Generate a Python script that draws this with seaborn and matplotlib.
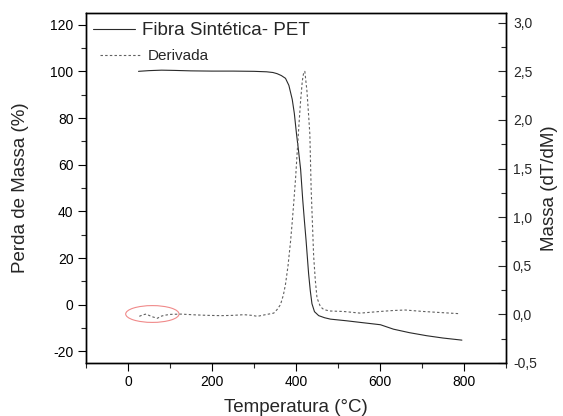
import numpy as np
import pandas as pd
import matplotlib
matplotlib.use("Agg")
import matplotlib.pyplot as plt
from matplotlib.patches import Ellipse
from matplotlib.ticker import MultipleLocator, FuncFormatter
from matplotlib.lines import Line2D
import seaborn as sns

# ---- data ----
tga_temp = [25, 50, 80, 110, 150, 200, 250, 300, 330, 345, 355, 365, 375, 383,
            391, 396, 401, 406, 411, 416, 420, 424, 430, 434, 438, 444, 454,
            468, 482, 520, 553, 601, 632, 670, 711, 750, 795]
tga_mass = [100, 100.3, 100.5, 100.4, 100.2, 100.1, 100.1, 100, 99.8, 99.5, 99,
            98.2, 97, 94, 88, 82, 73.5, 66, 58, 45, 36, 27.5, 13.3, 6, 0.4, -3,
            -4.7, -5.6, -6.2, -6.9, -7.6, -8.6, -10.5, -12, -13.3, -14.3, -15.2]

dtg_temp = [27, 35, 43, 50, 55, 62, 70, 78, 86, 100, 126, 160, 190, 221, 250,
            276, 295, 308, 325, 347, 355, 363, 370, 375, 381, 387, 391, 395, 399,
            403, 407, 411, 415, 418, 421, 426, 430, 433, 436, 439, 442, 446, 450,
            458, 466, 480, 513, 553, 600, 632, 660, 703, 740, 790]
dtg_val = [-0.02, -0.005, 0.003, -0.01, -0.02, -0.03, -0.04, -0.02, -0.01, 0.0,
           0.003, -0.005, -0.01, -0.013, -0.01, -0.003, -0.01, -0.02, -0.005,
           0.013, 0.05, 0.10, 0.2, 0.31, 0.5, 0.75, 0.95, 1.17, 1.4, 1.68, 1.95,
           2.2, 2.4, 2.48, 2.5, 2.3, 2.05, 1.85, 1.3, 0.95, 0.6, 0.35, 0.17,
           0.08, 0.05, 0.035, 0.03, 0.013, 0.03, 0.04, 0.045, 0.03, 0.02, 0.007]

label_tga = "Fibra Sintética- PET"
label_dtg = "Derivada"
xlabel = "Temperatura (°C)"
ylabel_left = "Perda de Massa (%)"
ylabel_right = "Massa (dT/dM)"

df_tga = pd.DataFrame({"T": tga_temp, "m": tga_mass})
df_dtg = pd.DataFrame({"T": dtg_temp, "d": dtg_val})

sns.set_theme(style="white")
plt.rcParams["font.family"] = ["Liberation Sans", "DejaVu Sans"]
plt.rcParams["axes.unicode_minus"] = False

fig = plt.figure(figsize=(5.63, 4.16), dpi=100)
ax = fig.add_axes([86 / 563, 1 - 363 / 416, 420 / 563, 350 / 416])
ax2 = ax.twinx()

sns.lineplot(data=df_tga, x="T", y="m", ax=ax, color="#2a2a2a", linewidth=0.8,
             sort=False, estimator=None)
sns.lineplot(data=df_dtg, x="T", y="d", ax=ax2, color="#606060", linewidth=0.8,
             sort=False, estimator=None, linestyle=(0, (2.2, 2.0)))

ax.set_xlim(-100, 900)
ax.set_ylim(-25, 125)
ax2.set_ylim(-0.5, 3.1)

ax.xaxis.set_major_locator(MultipleLocator(200))
ax.xaxis.set_minor_locator(MultipleLocator(100))
ax.yaxis.set_major_locator(MultipleLocator(20))
ax.yaxis.set_minor_locator(MultipleLocator(10))
ax2.yaxis.set_major_locator(MultipleLocator(0.5))
ax2.yaxis.set_minor_locator(MultipleLocator(0.25))
ax2.yaxis.set_major_formatter(FuncFormatter(lambda v, p: f"{v:.1f}".replace(".", ",")))

ax.tick_params(axis="both", which="major", direction="out", length=5.5, width=0.8,
               labelsize=10, colors="black", left=True, bottom=True)
ax.tick_params(axis="both", which="minor", direction="out", length=3.5, width=0.8,
               left=True, bottom=True)
ax2.tick_params(axis="y", which="major", direction="in", length=5.5, width=0.8,
                labelsize=10, right=True, pad=5)
ax2.tick_params(axis="y", which="minor", direction="in", length=3.5, width=0.8, right=True)

for a in (ax, ax2):
    for s in a.spines.values():
        s.set_color("black")
        s.set_linewidth(1.0)
        s.set_visible(True)

ax.set_xlabel(xlabel, fontsize=13.5, labelpad=7)
ax.set_ylabel(ylabel_left, fontsize=13.5, labelpad=15)
ax2.set_ylabel(ylabel_right, fontsize=13.5, labelpad=3)

ell = Ellipse((58, -4), width=127, height=7.2, fill=False, edgecolor="#f08a8a",
              linewidth=0.8)
ax.add_patch(ell)

h1 = Line2D([], [], color="#2a2a2a", linewidth=0.8)
h2 = Line2D([], [], color="#606060", linewidth=0.8, linestyle=(0, (2.2, 2.0)))
leg1 = ax2.legend([h1], [label_tga], loc="upper left", frameon=False, fontsize=13.5,
                  bbox_to_anchor=(93 / 563, 1 - 22 / 416), bbox_transform=fig.transFigure,
                  borderpad=0, borderaxespad=0, handlelength=2.24, handletextpad=0.36)
ax2.add_artist(leg1)
leg2 = ax2.legend([h2], [label_dtg], loc="upper left", frameon=False, fontsize=11,
                  bbox_to_anchor=(100 / 563, 1 - 49 / 416), bbox_transform=fig.transFigure,
                  borderpad=0, borderaxespad=0, handlelength=2.6, handletextpad=0.5)

fig.savefig("out.png", dpi=100)
